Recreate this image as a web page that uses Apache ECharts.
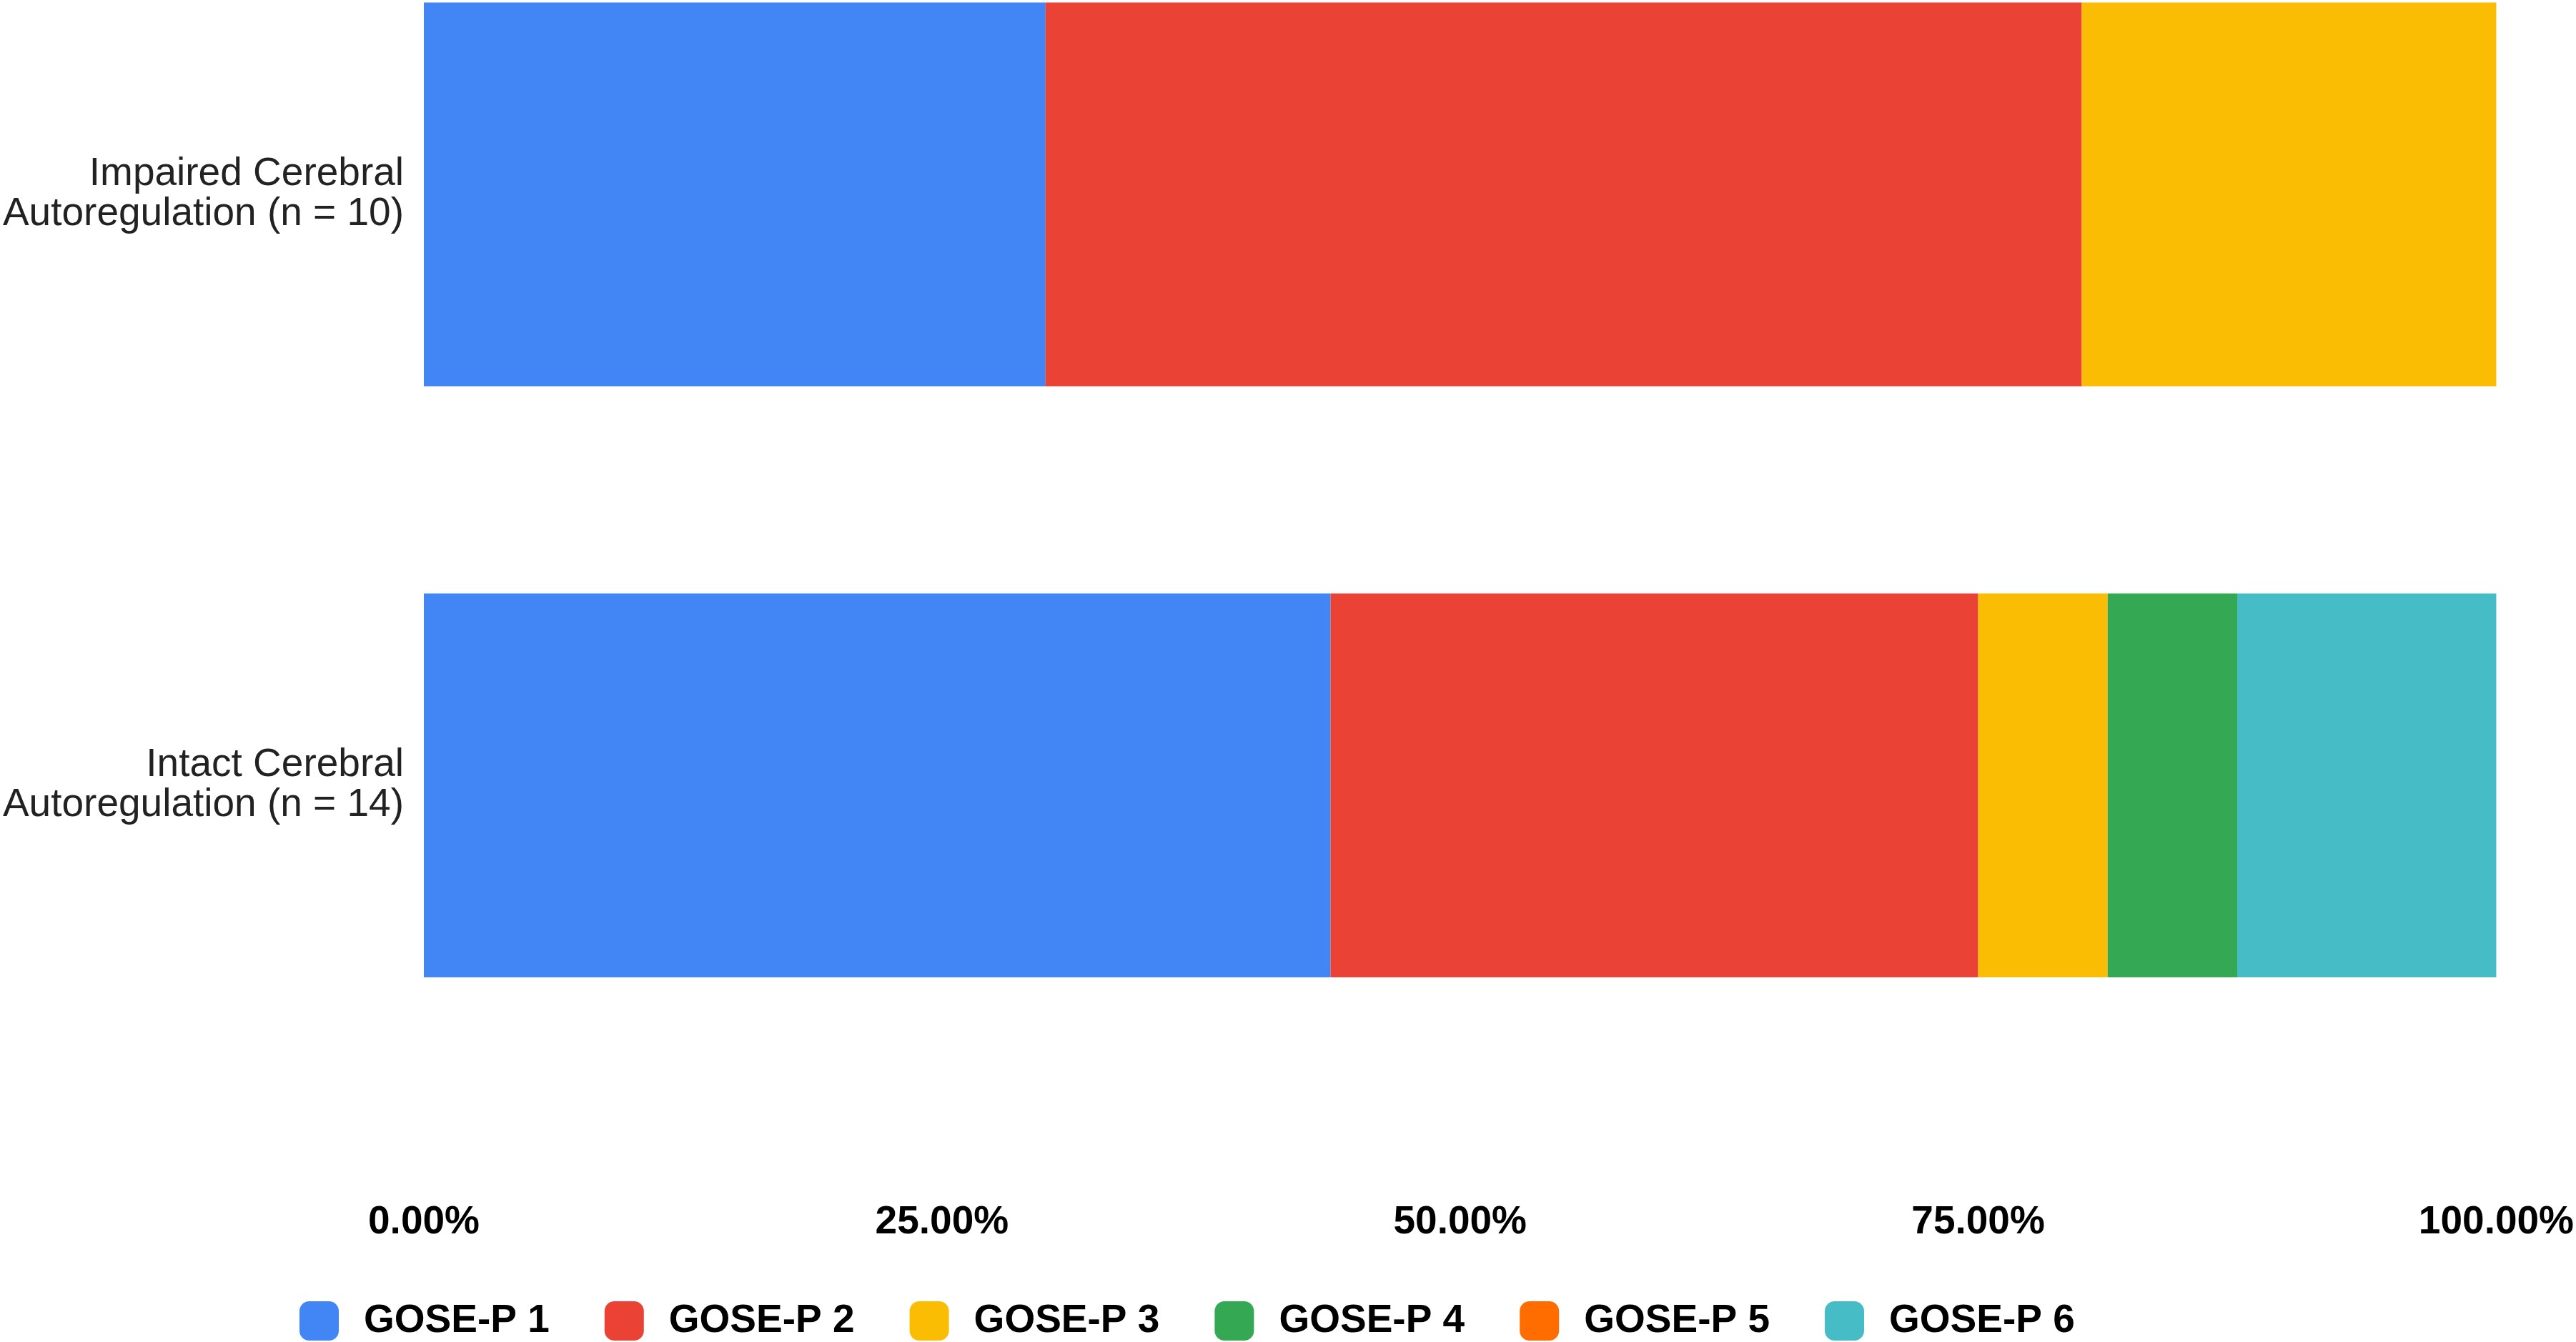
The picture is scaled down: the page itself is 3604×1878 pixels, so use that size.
<!DOCTYPE html>
<html>
<head>
<meta charset="utf-8">
<script src="https://cdn.jsdelivr.net/npm/echarts@6/dist/echarts.min.js"></script>
<style>
html,body{margin:0;padding:0;background:#fff;}
#chart{width:3604px;height:1878px;}
</style>
</head>
<body>
<div id="chart"></div>
<script>
const categories = ['Impaired Cerebral\nAutoregulation (n = 10)', 'Intact Cerebral\nAutoregulation (n = 14)'];
const seriesNames = ['GOSE-P 1', 'GOSE-P 2', 'GOSE-P 3', 'GOSE-P 4', 'GOSE-P 5', 'GOSE-P 6'];
const gose1 = [30, 43.75];
const gose2 = [50, 31.25];
const gose3 = [20, 6.25];
const gose4 = [0, 6.25];
const gose5 = [0, 0];
const gose6 = [0, 12.5];
const xTicks = [0, 25, 50, 75, 100];
const colors = ['#4285F4', '#EA4335', '#FBBC04', '#34A853', '#FF6D01', '#46BDC6'];

const values = [gose1, gose2, gose3, gose4, gose5, gose6];
const chart = echarts.init(document.getElementById('chart'));
chart.setOption({
  animation: false,
  color: colors,
  grid: { left: 593, right: 110, top: 272, height: 827, containLabel: false },
  xAxis: {
    type: 'value', min: xTicks[0], max: xTicks[xTicks.length - 1], interval: 25,
    axisLine: { show: false }, axisTick: { show: false }, splitLine: { show: false },
    axisLabel: {
      margin: 584, fontFamily: 'Liberation Sans', fontWeight: 'bold', fontSize: 55, color: '#000',
      formatter: v => v.toFixed(2) + '%'
    }
  },
  yAxis: {
    type: 'category', data: categories, inverse: true, boundaryGap: false,
    axisLine: { show: false }, axisTick: { show: false }, splitLine: { show: false },
    axisLabel: { margin: 28, fontFamily: 'Liberation Sans', fontSize: 55, lineHeight: 56, color: '#222', align: 'right' }
  },
  legend: {
    left: 414, top: 1816, icon: 'roundRect', itemWidth: 55, itemHeight: 55, itemGap: 77,
    textStyle: { fontFamily: 'Liberation Sans', fontWeight: 'bold', fontSize: 55, color: '#000', padding: [0, 0, 0, 30] },
    data: seriesNames
  },
  series: seriesNames.map((n, i) => ({
    name: n, type: 'bar', stack: 'total', barWidth: 537, clip: false, data: values[i],
    itemStyle: { color: colors[i] }
  }))
});
</script>
</body>
</html>
